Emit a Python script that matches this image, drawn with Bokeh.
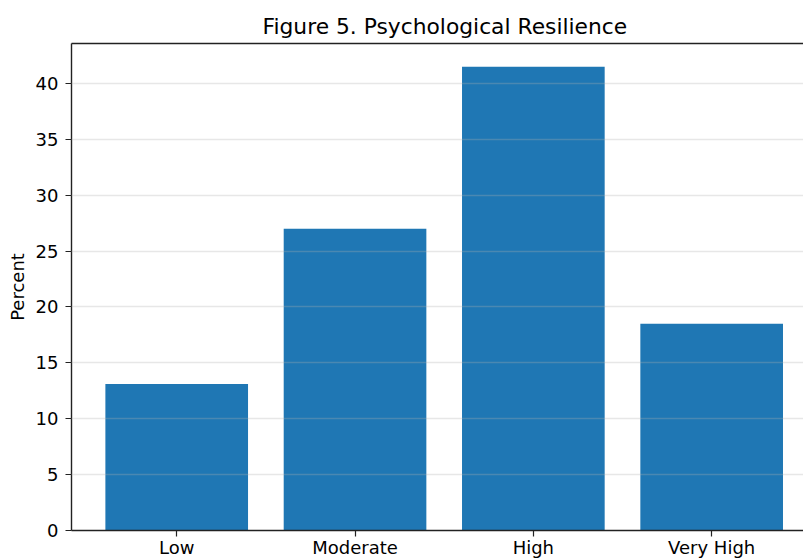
from bokeh.plotting import figure
from bokeh.models import Range1d, FixedTicker, LinearAxis
from bokeh.embed import file_html
from bokeh.resources import INLINE

categories = ["Low", "Moderate", "High", "Very High"]
percents = [13.1, 27.0, 41.5, 18.5]
y_ticks = [0, 5, 10, 15, 20, 25, 30, 35, 40]

xs = list(range(len(categories)))
FONT = "DejaVu Sans"

p = figure(width=803, height=560, output_backend="svg", toolbar_location=None,
           title="Figure 5. Psychological Resilience",
           x_range=Range1d(-0.59, 3.515), y_range=Range1d(0, max(percents) * 1.05),
           min_border_left=71, min_border_right=0, min_border_top=43, min_border_bottom=30)

p.vbar(x=xs, top=percents, width=0.8, fill_color="#1f77b4", line_color=None)

p.title.text_font = FONT
p.title.text_font_size = "21.8px"
p.title.text_font_style = "normal"
p.title.align = "left"
p.title.offset = 191
p.title.text_color = "#000000"

p.outline_line_color = None
p.xgrid.visible = False
p.ygrid.ticker = FixedTicker(ticks=y_ticks)
p.ygrid.grid_line_color = "#b0b0b0"
p.ygrid.grid_line_alpha = 0.3
p.ygrid.grid_line_width = 1.3
p.ygrid.level = "overlay"

for ax in (p.xaxis[0], p.yaxis[0]):
    ax.axis_line_color = "#222222"
    ax.axis_line_width = 1.4
    ax.major_tick_line_color = "#222222"
    ax.major_tick_line_width = 1.2
    ax.major_tick_out = 6
    ax.major_tick_in = 0
    ax.minor_tick_line_color = None
    ax.major_label_text_font = FONT
    ax.major_label_text_font_size = "18px"
    ax.major_label_text_color = "#000000"
    ax.major_label_standoff = 7

p.xaxis[0].ticker = FixedTicker(ticks=xs)
p.xaxis[0].major_label_overrides = {i: c for i, c in zip(xs, categories)}
p.xaxis[0].major_label_standoff = 0

p.yaxis[0].ticker = FixedTicker(ticks=y_ticks)
p.yaxis[0].axis_label = "Percent"
p.yaxis[0].axis_label_text_font = FONT
p.yaxis[0].axis_label_text_font_size = "18px"
p.yaxis[0].axis_label_text_font_style = "normal"
p.yaxis[0].axis_label_text_color = "#000000"
p.yaxis[0].axis_label_standoff = 5

top = LinearAxis(ticker=FixedTicker(ticks=[]), major_label_text_font_size="0px",
                 axis_line_color="#222222", axis_line_width=1.4,
                 major_tick_line_color=None, minor_tick_line_color=None)
p.add_layout(top, "above")

open("out.html", "w").write(file_html(p, INLINE))
